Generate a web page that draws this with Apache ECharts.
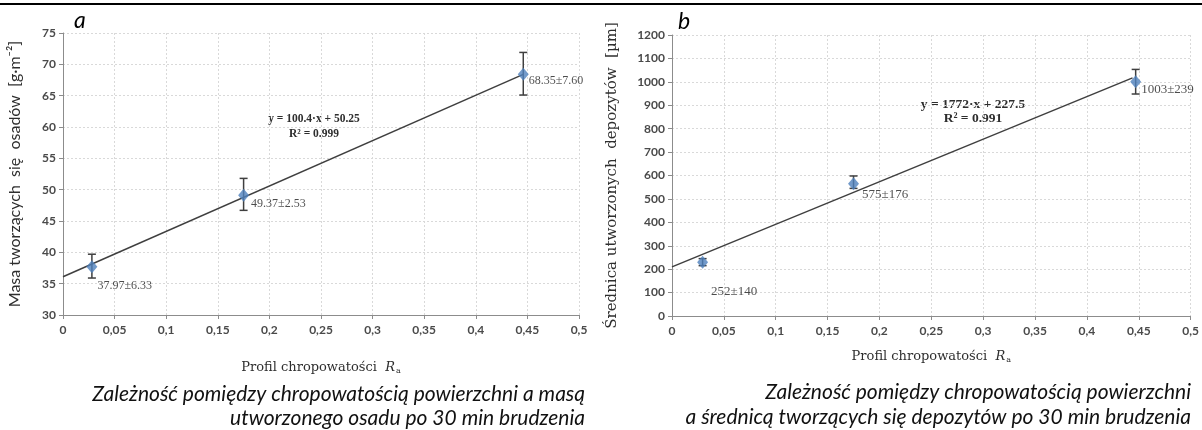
<!DOCTYPE html>
<html>
<head>
<meta charset="utf-8">
<script src="https://cdn.jsdelivr.net/npm/echarts@6/dist/echarts.min.js"></script>
<style>
html, body { margin: 0; padding: 0; background: #fff; }
#chart { width: 1202px; height: 430px; }
</style>
</head>
<body>
<div id="chart"></div>
<script>
'use strict';

/** dane */
var xTickLabels = ['0', '0,05', '0,1', '0,15', '0,2', '0,25', '0,3', '0,35', '0,4', '0,45', '0,5'];

// a: masa osadu
var raA = [0.028, 0.175, 0.446];
var massA = [37.7, 49.1, 68.4];
var massLow = [35.9, 46.7, 65.1];
var massHigh = [39.7, 51.8, 71.9];
var massText = ['37.97±6.33', '49.37±2.53', '68.35±7.60'];
var trendAx = [0, 0.446];
var trendAy = [36.1, 68.4];

// b: srednica depozytow
var raB = [0.0295, 0.175, 0.447];
var diamB = [230, 565, 1000];
var diamLow = [215, 545, 948];
var diamHigh = [245, 598, 1053];
var diamText = ['252±140', '575±176', '1003±239'];
var trendBx = [0, 0.444];
var trendBy = [210, 1017];

var chart = echarts.init(document.getElementById('chart'));

var axisGray = '#8c8c8c';
var textGray = '#2e2e2e';
var serif = '"Liberation Serif", "DejaVu Serif", serif';
var wideSerif = '"DejaVu Serif", serif';
var sans = 'Lato, "Noto Sans", sans-serif';

function xAxisCfg(gridIndex, gap) {
    return {
        type: 'value',
        gridIndex: gridIndex,
        min: 0,
        max: 0.5,
        interval: 0.05,
        name: '{n|Profil chropowatości  }{r|R}{s|a}',
        nameLocation: 'middle',
        nameGap: gap,
        nameTextStyle: {
            rich: {
                n: { fontFamily: wideSerif, fontSize: 13, color: textGray },
                r: { fontFamily: wideSerif, fontSize: 13, fontStyle: 'italic', color: textGray },
                s: { fontFamily: wideSerif, fontSize: 8, color: textGray, padding: [6, 0, 0, 1] }
            }
        },
        axisLine: { lineStyle: { color: axisGray, width: 1 } },
        axisTick: { show: true, length: 4, lineStyle: { color: axisGray } },
        axisLabel: {
            margin: 9,
            fontFamily: sans,
            fontSize: 12,
            fontWeight: 'bold',
            color: '#4a4a4a',
            formatter: function (v, i) { return xTickLabels[i]; }
        },
        splitLine: { show: true, lineStyle: { color: '#d9d9d9', type: [2, 2] } }
    };
}

function yAxisCfg(gridIndex, min, max, step, name, font, size, gap) {
    return {
        type: 'value',
        gridIndex: gridIndex,
        min: min,
        max: max,
        interval: step,
        name: name,
        nameLocation: 'middle',
        nameRotate: 90,
        nameGap: gap,
        nameTextStyle: { fontFamily: font, fontSize: size, color: textGray },
        axisLine: { show: true, lineStyle: { color: axisGray, width: 1 } },
        axisTick: { show: true, length: 4, lineStyle: { color: axisGray } },
        axisLabel: {
            margin: 7,
            fontFamily: sans,
            fontSize: 12,
            fontWeight: 'bold',
            color: '#4a4a4a',
            formatter: function (v) { return String(v); }
        },
        splitLine: { show: true, lineStyle: { color: '#d9d9d9', type: [2, 2] } }
    };
}

function errorBars(idx, xs, lo, hi) {
    return {
        type: 'custom',
        xAxisIndex: idx,
        yAxisIndex: idx,
        silent: true,
        z: 3,
        data: xs.map(function (x, i) { return [x, lo[i], hi[i]]; }),
        renderItem: function (params, api) {
            var top = api.coord([api.value(0), api.value(2)]);
            var bot = api.coord([api.value(0), api.value(1)]);
            var w = 4;
            var st = { stroke: '#3f3f3f', lineWidth: 1.5 };
            return {
                type: 'group',
                children: [
                    { type: 'line', shape: { x1: top[0], y1: top[1], x2: bot[0], y2: bot[1] }, style: st },
                    { type: 'line', shape: { x1: top[0] - w, y1: top[1], x2: top[0] + w, y2: top[1] }, style: st },
                    { type: 'line', shape: { x1: bot[0] - w, y1: bot[1], x2: bot[0] + w, y2: bot[1] }, style: st }
                ]
            };
        }
    };
}

function points(idx, xs, ys, texts, offsets, fontSize) {
    return {
        type: 'scatter',
        xAxisIndex: idx,
        yAxisIndex: idx,
        symbol: 'diamond',
        symbolSize: [11, 13],
        z: 5,
        itemStyle: { color: '#4f81bd' },
        data: xs.map(function (x, i) {
            return {
                value: [x, ys[i]],
                label: {
                    show: true,
                    position: 'right',
                    distance: 0,
                    offset: offsets[i],
                    formatter: texts[i],
                    fontFamily: serif,
                    fontSize: fontSize,
                    color: '#1f1f1f'
                }
            };
        })
    };
}

function trend(idx, xs, ys) {
    return {
        type: 'line',
        xAxisIndex: idx,
        yAxisIndex: idx,
        symbol: 'none',
        silent: true,
        z: 4,
        lineStyle: { color: '#3f3f3f', width: 1.5 },
        data: xs.map(function (x, i) { return [x, ys[i]]; })
    };
}

function txt(text, x, y, font, align, color) {
    return {
        type: 'text',
        style: {
            text: text,
            x: x,
            y: y,
            font: font,
            fill: color || '#000',
            textAlign: align || 'left',
            textVerticalAlign: 'middle'
        }
    };
}

var option = {
    animation: false,
    backgroundColor: '#fff',
    grid: [
        { left: 63, right: 623, top: 33, bottom: 115 },
        { left: 672, right: 10, top: 35, bottom: 114 }
    ],
    xAxis: [xAxisCfg(0, 46), xAxisCfg(1, 34)],
    yAxis: [
        yAxisCfg(0, 30, 75, 5, 'Masa tworzących  się  osadów  [g·m⁻²]', sans, 16, 40),
        yAxisCfg(1, 0, 1200, 100, 'Średnica utworzonych  depozytów  [µm]', wideSerif, 15, 52)
    ],
    series: [
        trend(0, trendAx, trendAy),
        errorBars(0, raA, massLow, massHigh),
        points(0, raA, massA, massText, [[0, 19], [2, 9], [0, 6]], 12),
        trend(1, trendBx, trendBy),
        errorBars(1, raB, diamLow, diamHigh),
        points(1, raB, diamB, diamText, [[3, 29], [3, 11], [0, 8]], 13)
    ],
    graphic: [
        { type: 'line', shape: { x1: 0, y1: 4, x2: 1202, y2: 4 }, style: { stroke: '#000', lineWidth: 2 } },
        txt('a', 74, 21, 'italic 23px ' + sans),
        txt('b', 678, 22, 'italic 23px ' + sans),
        txt('y = 100.4·x + 50.25', 314, 119, 'bold 11.5px ' + serif, 'center', textGray),
        txt('R² = 0.999', 314, 134, 'bold 11.5px ' + serif, 'center', textGray),
        txt('y = 1772·x + 227.5', 973, 105, 'bold 13.5px ' + serif, 'center', textGray),
        txt('R² = 0.991', 973, 119, 'bold 13.5px ' + serif, 'center', textGray),
        txt('Zależność pomiędzy chropowatością powierzchni a masą', 585, 394, 'italic 21px ' + sans, 'right', '#111'),
        txt('utworzonego osadu po 30 min brudzenia', 585, 418, 'italic 21px ' + sans, 'right', '#111'),
        txt('Zależność pomiędzy chropowatością powierzchni', 1191, 392, 'italic 21px ' + sans, 'right', '#111'),
        txt('a średnicą tworzących się depozytów po 30 min brudzenia', 1191, 417, 'italic 21px ' + sans, 'right', '#111')
    ]
};

chart.setOption(option);
</script>
</body>
</html>
